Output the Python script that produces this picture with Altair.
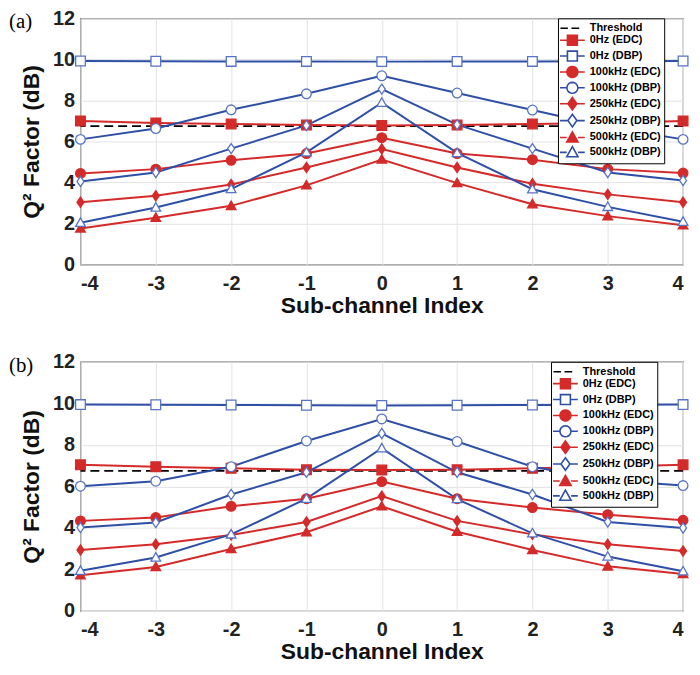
import math
import altair as alt
import pandas as pd

X = [-4, -3, -2, -1, 0, 1, 2, 3, 4]
SERIES = ["0Hz (EDC)", "0Hz (DBP)", "100kHz (EDC)", "100kHz (DBP)",
          "250kHz (EDC)", "250kHz (DBP)", "500kHz (EDC)", "500kHz (DBP)"]
THRESHOLD = 6.75

# panel (a)
A_0_EDC = [7.0, 6.9, 6.85, 6.8, 6.78, 6.8, 6.85, 6.9, 7.0]
A_0_DBP = [9.92, 9.91, 9.9, 9.9, 9.89, 9.9, 9.9, 9.91, 9.92]
A_100_EDC = [4.44, 4.65, 5.08, 5.41, 6.18, 5.41, 5.11, 4.65, 4.46]
A_100_DBP = [6.1, 6.63, 7.54, 8.32, 9.2, 8.36, 7.53, 6.7, 6.1]
A_250_EDC = [3.04, 3.35, 3.9, 4.73, 5.63, 4.73, 3.94, 3.42, 3.04]
A_250_DBP = [4.05, 4.49, 5.65, 6.78, 8.55, 6.82, 5.65, 4.49, 4.1]
A_500_EDC = [1.76, 2.28, 2.86, 3.86, 5.12, 3.97, 2.94, 2.36, 1.91]
A_500_DBP = [2.04, 2.78, 3.68, 5.47, 7.89, 5.44, 3.67, 2.81, 2.09]

# panel (b)
B_0_EDC = [7.04, 6.95, 6.87, 6.8, 6.79, 6.8, 6.87, 6.95, 7.04]
B_0_DBP = [9.94, 9.93, 9.92, 9.91, 9.9, 9.91, 9.92, 9.93, 9.94]
B_100_EDC = [4.34, 4.5, 5.04, 5.41, 6.23, 5.41, 4.98, 4.64, 4.37]
B_100_DBP = [6.01, 6.25, 6.95, 8.19, 9.25, 8.16, 6.95, 6.3, 6.04]
B_250_EDC = [2.94, 3.21, 3.66, 4.29, 5.53, 4.34, 3.69, 3.21, 2.89]
B_250_DBP = [4.02, 4.26, 5.61, 6.68, 8.55, 6.68, 5.61, 4.29, 4.0]
B_500_EDC = [1.72, 2.12, 2.99, 3.79, 5.04, 3.82, 2.94, 2.15, 1.78]
B_500_DBP = [1.94, 2.58, 3.69, 5.41, 7.84, 5.39, 3.74, 2.62, 1.91]

PANEL_A = [A_0_EDC, A_0_DBP, A_100_EDC, A_100_DBP, A_250_EDC, A_250_DBP, A_500_EDC, A_500_DBP]
PANEL_B = [B_0_EDC, B_0_DBP, B_100_EDC, B_100_DBP, B_250_EDC, B_250_DBP, B_500_EDC, B_500_DBP]

RED = "#d42a2a"
BLUE = "#2f4fa6"
BLUE_MK = "#5873c4"
LINE_COLORS = [RED, BLUE] * 4
MK_STROKE = [RED, BLUE_MK] * 4
MK_FILL = [RED, "white"] * 4

SQ = "M-1,-1L1,-1L1,1L-1,1Z"
CI = "circle"
DI = "M0,-1.05L0.72,0L0,1.05L-0.72,0Z"
TR = "M0,-1L1,0.75L-1,0.75Z"
POINT_SHAPES = [SQ, SQ, CI, CI, DI, DI, TR, TR]
POINT_SIZES = [95, 95, 140, 140, 125, 125, 115, 115]

# legend symbol geometry, in symbol units (1 unit = 6px), shifted right by DX
DX = 0.75


def path(points_list, close):
    s = "M" + "L".join(f"{x + DX:.3f},{y:.3f}" for x, y in points_list)
    return s + ("Z" if close else "")


def polygon_circle(r, n=20):
    return [(r * math.cos(2 * math.pi * i / n + math.pi), r * math.sin(2 * math.pi * i / n + math.pi))
            for i in range(n)]


LG_SQ = [(-0.83, -0.83), (0.83, -0.83), (0.83, 0.83), (-0.83, 0.83)]
LG_CI = polygon_circle(0.92)
LG_DI = [(0, -1.05), (0.75, 0), (0, 1.05), (-0.75, 0)]
LG_TR = [(0, -0.95), (0.95, 0.75), (-0.95, 0.75)]


def lg(marker, r):
    return (path([(-2.08, 0), (-r, 0)], False) + path([(r, 0), (2.08, 0)], False)
            + path(marker, True))


LEGEND_NAMES = ["Threshold"] + SERIES
LEGEND_SHAPES = [path([(-2.0, 0), (-0.75, 0)], False) + path([(-0.15, 0), (1.15, 0)], False),
                 lg(LG_SQ, 0.83), lg(LG_SQ, 0.83), lg(LG_CI, 0.92), lg(LG_CI, 0.92),
                 lg(LG_DI, 0.75), lg(LG_DI, 0.75), lg(LG_TR, 0.95), lg(LG_TR, 0.95)]
LEGEND_STROKE = ["black", RED, BLUE, RED, BLUE, RED, BLUE, RED, BLUE]
LEGEND_FILL = ["transparent", RED, "white", RED, "white", RED, "white", RED, "white"]

FONT = "Liberation Sans"
W = 607


def panel(values, tag, legend_x, height):
    rows = []
    for name, ys in zip(SERIES, values):
        for x, y in zip(X, ys):
            rows.append({"x": x, "y": y, "series": name})
    df = pd.DataFrame(rows)

    xenc = alt.X("x:Q", scale=alt.Scale(domain=[-4, 4], nice=False),
                 axis=alt.Axis(values=X, labelExpr="'' + datum.value", title="Sub-channel Index",
                               labelPadding=9, titlePadding=1))
    yenc = alt.Y("y:Q", scale=alt.Scale(domain=[0, 12], nice=False),
                 axis=alt.Axis(values=[0, 2, 4, 6, 8, 10, 12], title="Q² Factor (dB)",
                               labelPadding=6, titlePadding=9))

    thr = alt.Chart(pd.DataFrame({"t": [THRESHOLD]})).mark_rule(
        color="black", strokeWidth=1.8, strokeDash=[9, 5]
    ).encode(y=alt.Y("t:Q", scale=alt.Scale(domain=[0, 12], nice=False)))

    base = alt.Chart(df)
    lines = base.mark_line(strokeWidth=2).encode(
        x=xenc, y=yenc,
        color=alt.Color("series:N", scale=alt.Scale(domain=SERIES, range=LINE_COLORS), legend=None),
        order=alt.Order("x:Q"),
    )
    points = base.mark_point(strokeWidth=1.3, opacity=1).encode(
        x="x:Q", y="y:Q",
        stroke=alt.Stroke("series:N", scale=alt.Scale(domain=SERIES, range=MK_STROKE), legend=None),
        fill=alt.Fill("series:N", scale=alt.Scale(domain=SERIES, range=MK_FILL), legend=None),
        shape=alt.Shape("series:N", scale=alt.Scale(domain=SERIES, range=POINT_SHAPES), legend=None),
        size=alt.Size("series:N", scale=alt.Scale(domain=SERIES, range=POINT_SIZES), legend=None),
    )

    leg = alt.Legend(
        title=None, orient="none", legendX=legend_x, legendY=0,
        direction="vertical", columns=1,
        labelFont=FONT, labelFontSize=11, labelFontWeight="bold", labelColor="black",
        symbolSize=144, symbolStrokeWidth=1.6, symbolOffset=0, labelOffset=15,
        strokeColor="black", fillColor="white", padding=3, rowPadding=-3.7,
    )
    legend_layer = alt.Chart(pd.DataFrame({"Legend": LEGEND_NAMES})).mark_point(
        filled=False, opacity=1
    ).encode(
        stroke=alt.Stroke("Legend:N", scale=alt.Scale(domain=LEGEND_NAMES, range=LEGEND_STROKE), legend=leg),
        fill=alt.Fill("Legend:N", scale=alt.Scale(domain=LEGEND_NAMES, range=LEGEND_FILL), legend=leg),
        shape=alt.Shape("Legend:N", scale=alt.Scale(domain=LEGEND_NAMES, range=LEGEND_SHAPES), legend=leg),
    ).transform_filter("false")

    label = alt.Chart(pd.DataFrame({"t": [tag]})).mark_text(
        font="Liberation Serif", fontSize=21, align="left", baseline="top", color="black"
    ).encode(x=alt.value(-72), y=alt.value(-7), text="t:N")

    return alt.layer(thr, lines, points, legend_layer, label).resolve_scale(
        stroke="independent", fill="independent", shape="independent"
    ).properties(width=W, height=height)


chart = alt.vconcat(
    panel(PANEL_A, "(a)", 481, 248),
    panel(PANEL_B, "(b)", 474, 251),
    spacing=33,
).properties(
    padding={"top": -3, "left": 0, "right": 0, "bottom": 0}
).configure_view(
    stroke="#555555", strokeWidth=1.2
).configure_axis(
    labelFont=FONT, labelFontSize=20, labelFontWeight="bold", labelColor="#222222",
    titleFont=FONT, titleFontSize=23, titleFontWeight="bold", titleColor="#111111",
    grid=True, gridColor="#e3e3e3", gridWidth=1, domain=False, ticks=False,
)

chart.save("out.html", embed_options={"renderer": "svg", "actions": False})
